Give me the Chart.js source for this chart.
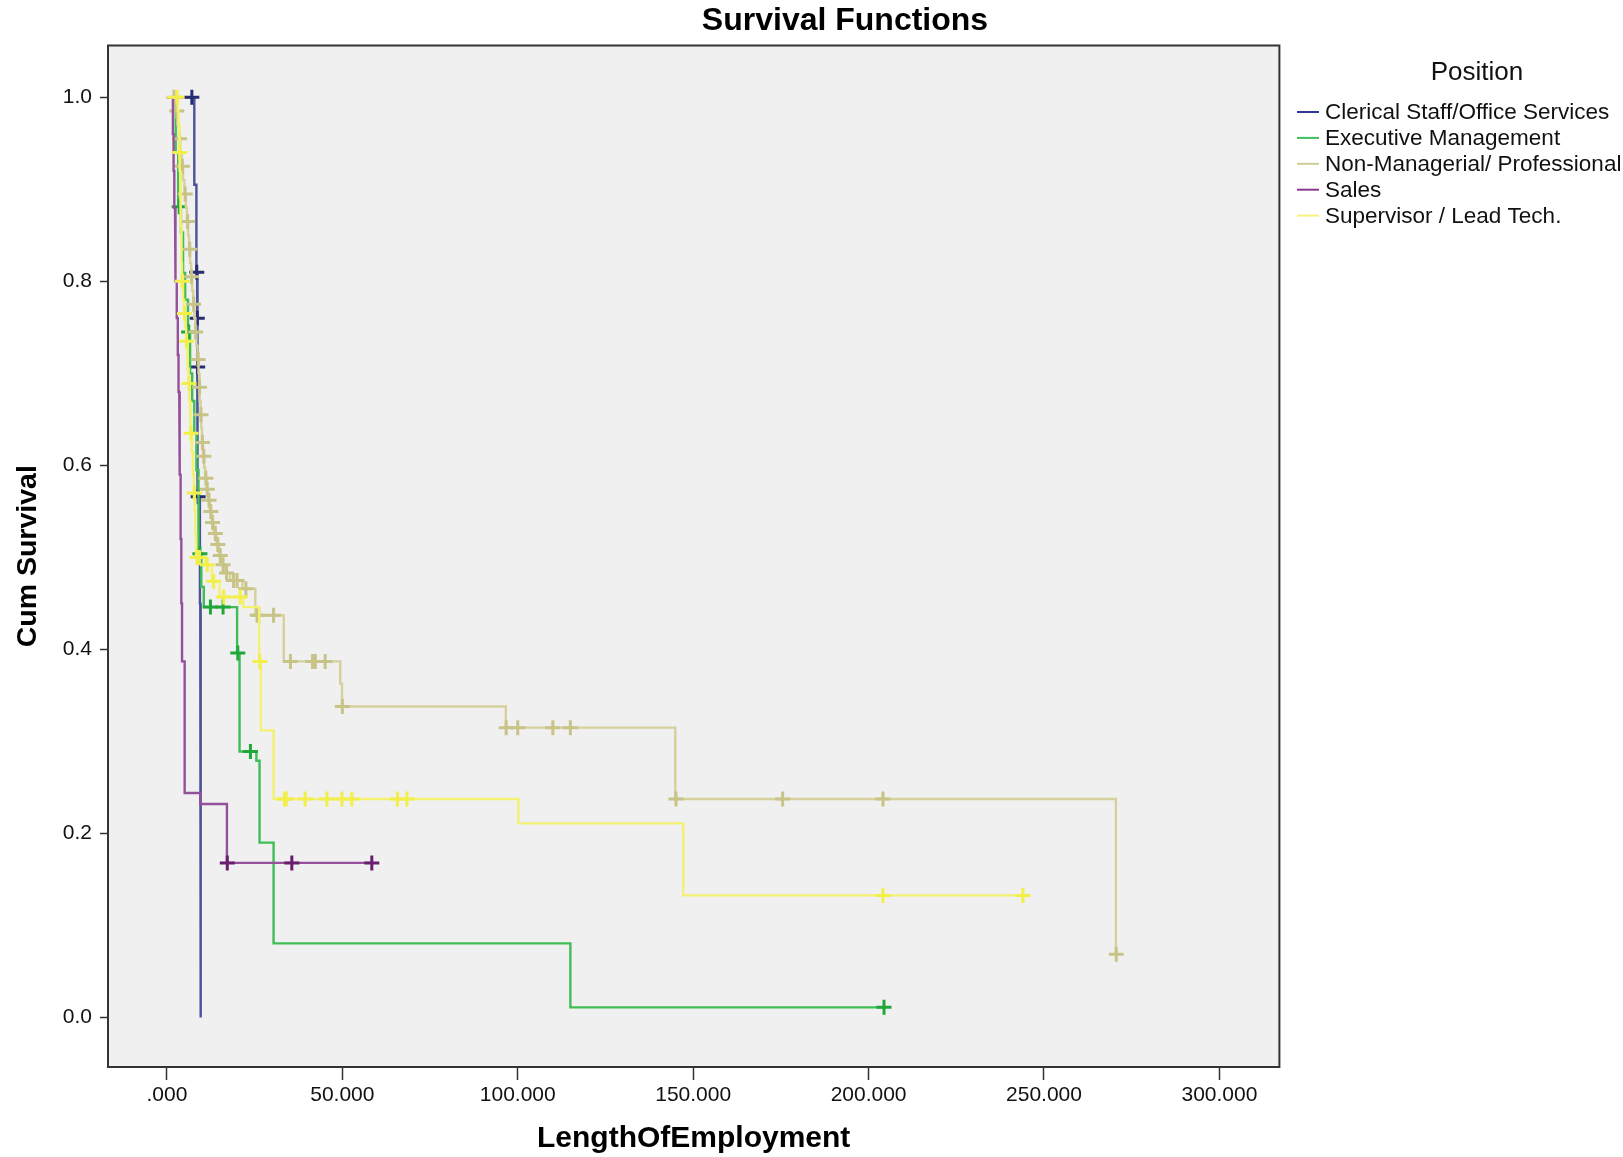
<!DOCTYPE html>
<html>
<head>
<meta charset="utf-8">
<script src="https://cdn.jsdelivr.net/npm/chart.js@4.4.1/dist/chart.umd.min.js"></script>
<style>
  html, body { margin: 0; padding: 0; background: #fff; }
  canvas { display: block; }
</style>
</head>
<body>
<canvas id="km" width="1623" height="1157"></canvas>
<script>
const FONT = '"Liberation Sans", Arial, sans-serif';

// groups (legend order)
const groupNames = ['Clerical Staff/Office Services', 'Executive Management', 'Non-Managerial/ Professional', 'Sales', 'Supervisor / Lead Tech.'];

// event times + cumulative survival after each event, censored times
const clericalTimes = [7.8, 8.4, 8.6, 8.7, 8.8, 9.4, 9.5, 9.6, 9.7];
const clericalSurv = [0.905, 0.81, 0.76, 0.707, 0.566, 0.45, 0.34, 0.228, 0.0];
const clericalCensored = [7.1, 8.5, 8.65, 8.75, 8.9];

const execTimes = [2.5, 3.2, 4.0, 4.6, 5.2, 6.0, 6.6, 7.2, 7.8, 8.4, 9.0, 9.8, 10.5, 20.0, 20.7, 25.5, 26.4, 30.4, 115.0];
const execSurv = [0.94, 0.881, 0.853, 0.809, 0.78, 0.745, 0.70, 0.67, 0.635, 0.595, 0.504, 0.468, 0.446, 0.396, 0.289, 0.279, 0.19, 0.0806, 0.011];
const execCensored = [3.5, 6.2, 9.4, 12.4, 16.0, 20.2, 23.8, 204.4];

const nonManTimes = [2.6, 3.0, 3.4, 3.8, 4.2, 4.6, 5.0, 5.4, 5.7, 6.0, 6.3, 6.6, 6.9, 7.2, 7.5, 7.8, 8.1, 8.4, 8.7, 9.0,
  9.2, 9.4, 9.6, 9.8, 10.0, 10.3, 10.6, 10.9, 11.3, 11.7, 12.2, 12.8, 13.4, 14.1, 14.8, 15.6, 16.5, 18.0, 21.5, 25.2,
  33.3, 49.4, 49.9, 96.6, 144.9, 270.5];
const nonManSurv = [0.985, 0.97, 0.955, 0.94, 0.925, 0.91, 0.895, 0.88, 0.865, 0.85, 0.835, 0.82, 0.805, 0.79, 0.775, 0.76, 0.745, 0.73, 0.715, 0.70,
  0.685, 0.67, 0.655, 0.64, 0.625, 0.61, 0.598, 0.586, 0.574, 0.562, 0.55, 0.538, 0.526, 0.514, 0.502, 0.492, 0.483, 0.475, 0.466, 0.437,
  0.387, 0.363, 0.338, 0.315, 0.2375, 0.0686];
const nonManCensored = [2.0, 2.8, 3.6, 4.4, 5.2, 5.9, 6.5, 7.0, 7.6, 8.2, 8.9, 9.3, 9.7, 10.1, 10.5, 11.1, 11.5, 12.0, 12.5, 13.0,
  13.8, 14.5, 15.2, 16.0, 17.0, 19.0, 20.0, 22.5, 25.7, 26.2, 30.4, 35.2, 41.5, 42.3, 45.1, 50.0, 96.7, 100.0, 110.0, 115.0,
  145.1, 175.5, 204.1, 270.6];

const salesTimes = [1.7, 1.9, 2.1, 2.3, 2.5, 2.8, 3.1, 3.3, 3.5, 3.7, 3.9, 4.1, 4.3, 5.05, 9.5, 17.1];
const salesSurv = [0.96, 0.92, 0.88, 0.84, 0.80, 0.76, 0.72, 0.68, 0.63, 0.59, 0.52, 0.45, 0.387, 0.244, 0.232, 0.168];
const salesCensored = [17.2, 35.6, 58.4];

const supTimes = [3.1, 3.3, 3.5, 3.6, 3.7, 3.8, 3.9, 4.0, 4.1, 4.2, 4.3, 4.6, 4.9, 5.2, 5.5, 5.8, 6.0, 6.2, 6.4, 6.6,
  6.8, 7.1, 7.4, 7.7, 7.9, 8.1, 8.3, 10.9, 12.8, 15.0, 21.8, 26.3, 26.8, 30.4, 100.2, 147.2];
const supSurv = [0.985, 0.97, 0.955, 0.94, 0.92, 0.90, 0.88, 0.86, 0.84, 0.82, 0.80, 0.78, 0.765, 0.75, 0.735, 0.72, 0.705, 0.689, 0.67, 0.65,
  0.635, 0.614, 0.59, 0.57, 0.551, 0.525, 0.50, 0.492, 0.474, 0.457, 0.446, 0.387, 0.312, 0.2375, 0.211, 0.1327];
const supCensored = [2.9, 3.65, 4.35, 5.0, 5.6, 6.3, 6.9, 7.8, 8.6, 9.3, 11.5, 13.3, 16.2, 20.9, 26.5, 33.5, 34.0, 39.4, 45.6, 49.9,
  52.7, 65.7, 68.4, 204.1, 244.0];

// axis ticks
const xTicks = [0, 50, 100, 150, 200, 250, 300];
const yTicks = [0, 0.2, 0.4, 0.6, 0.8, 1.0];

const lineColors = ['#4c5298', '#3fbe55', '#d5d09c', '#94509a', '#f4f070'];
const markColors = ['#262b72', '#20a73a', '#c8c386', '#6a1c6e', '#f2ee4a'];
const legendColors = ['#2f3b92', '#40c060', '#d0cc98', '#8a3b8e', '#f6f27a'];

const groups = [
  [clericalTimes, clericalSurv, clericalCensored],
  [execTimes, execSurv, execCensored],
  [nonManTimes, nonManSurv, nonManCensored],
  [salesTimes, salesSurv, salesCensored],
  [supTimes, supSurv, supCensored]
];

function survAt(times, surv, t) {
  let s = 1;
  for (let i = 0; i < times.length; i++) if (times[i] <= t) s = surv[i];
  return s;
}

function stepPoints(times, surv, cens) {
  const pts = [{x: 0, y: 1}];
  let prev = 1;
  for (let i = 0; i < times.length; i++) {
    pts.push({x: times[i], y: prev});
    pts.push({x: times[i], y: surv[i]});
    prev = surv[i];
  }
  const end = Math.max(times[times.length - 1], ...cens);
  if (end > times[times.length - 1]) pts.push({x: end, y: prev});
  return pts;
}

const datasets = [];
groups.forEach((g, i) => {
  const [t, s, c] = g;
  datasets.push({
    label: groupNames[i],
    data: stepPoints(t, s, c),
    showLine: true,
    borderColor: lineColors[i],
    borderWidth: 2.4,
    pointRadius: 0,
    tension: 0,
    order: 10 - 2 * i
  });
  datasets.push({
    label: groupNames[i] + ' censored',
    data: c.map(v => ({x: v, y: survAt(t, s, v)})),
    showLine: false,
    pointStyle: 'cross',
    pointRadius: 7.5,
    pointBorderWidth: 3,
    pointBorderColor: markColors[i],
    pointBackgroundColor: markColors[i],
    order: 9 - 2 * i
  });
});

const plotBg = {
  id: 'plotBg',
  beforeDraw(chart) {
    const {ctx, chartArea: a} = chart;
    ctx.save();
    ctx.fillStyle = '#fff';
    ctx.fillRect(0, 0, chart.width, chart.height);
    ctx.fillStyle = '#f0f0f0';
    ctx.fillRect(a.left, a.top, a.right - a.left, a.bottom - a.top);
    ctx.restore();
  },
  afterDraw(chart) {
    const {ctx, chartArea: a} = chart;
    ctx.save();
    ctx.strokeStyle = '#333';
    ctx.lineWidth = 2;
    ctx.strokeRect(a.left, a.top, a.right - a.left, a.bottom - a.top);

    // title
    ctx.fillStyle = '#000';
    ctx.font = 'bold 32px ' + FONT;
    ctx.textAlign = 'center';
    ctx.textBaseline = 'middle';
    ctx.fillText('Survival Functions', 845, 21);

    // legend
    ctx.font = '26px ' + FONT;
    ctx.fillStyle = '#111';
    ctx.fillText('Position', 1477, 73);
    ctx.font = '22.5px ' + FONT;
    ctx.textAlign = 'left';
    groupNames.forEach((name, i) => {
      const y = 112 + i * 25.9;
      ctx.strokeStyle = legendColors[i];
      ctx.lineWidth = 2;
      ctx.beginPath();
      ctx.moveTo(1297, y);
      ctx.lineTo(1319, y);
      ctx.stroke();
      ctx.fillStyle = '#111';
      ctx.fillText(name, 1325, y + 1);
    });
    ctx.restore();
  }
};

new Chart(document.getElementById('km'), {
  type: 'scatter',
  data: {datasets},
  options: {
    responsive: false,
    animation: false,
    devicePixelRatio: 1,
    events: [],
    layout: {padding: {left: 0, top: 45.5, right: 343.6, bottom: 0}},
    plugins: {legend: {display: false}, tooltip: {enabled: false}, title: {display: false}},
    scales: {
      x: {
        type: 'linear',
        min: -16.8,
        max: 317.1,
        afterBuildTicks: s => { s.ticks = xTicks.map(v => ({value: v})); },
        afterFit: s => { s.height = 90; },
        grid: {display: true, drawOnChartArea: false, drawTicks: true, tickLength: 13, tickColor: '#333', tickWidth: 1.5},
        border: {display: false},
        ticks: {
          autoSkip: false, maxRotation: 0, padding: 3, color: '#111',
          font: {family: FONT, size: 21},
          callback: v => v === 0 ? '.000' : v.toFixed(3)
        },
        title: {display: true, text: 'LengthOfEmployment', color: '#000',
          font: {family: FONT, size: 30, weight: 'bold'}, padding: {top: 0, bottom: 0}}
      },
      y: {
        type: 'linear',
        min: -0.0538,
        max: 1.0563,
        afterBuildTicks: s => { s.ticks = yTicks.map(v => ({value: v})); },
        afterFit: s => { s.width = 108; },
        grid: {display: true, drawOnChartArea: false, drawTicks: true, tickLength: 8, tickColor: '#333', tickWidth: 1.5},
        border: {display: false},
        ticks: {
          autoSkip: false, padding: 8, color: '#111',
          font: {family: FONT, size: 21},
          callback: v => v.toFixed(1)
        },
        title: {display: true, text: 'Cum Survival', color: '#000',
          font: {family: FONT, size: 28.5, weight: 'bold'}, padding: {top: 11, bottom: 0}}
      }
    }
  },
  plugins: [plotBg]
});
</script>
</body>
</html>
